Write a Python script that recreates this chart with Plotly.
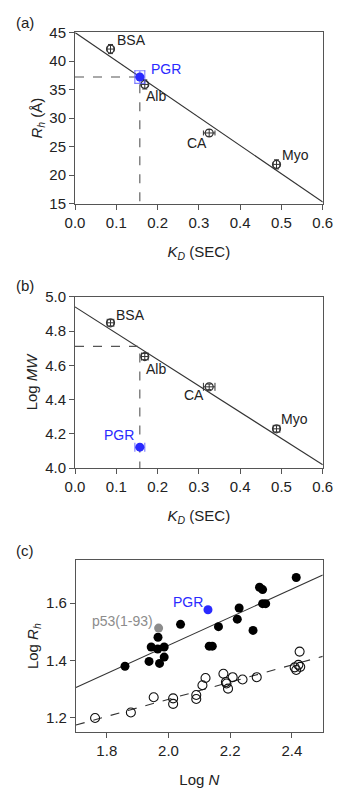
import plotly.graph_objects as go
import numpy as np

# ---------------- data ----------------
std_names = ["BSA", "Alb", "CA", "Myo"]
std_kd = [0.086, 0.169, 0.325, 0.488]
std_kd_err = [0.008, 0.008, 0.014, 0.008]
std_rh = [42.1, 35.9, 27.4, 21.9]
std_rh_err = [0.8, 0.8, 0.6, 0.8]
std_logmw = [4.848, 4.651, 4.474, 4.229]
std_logmw_err = [0.018, 0.018, 0.016, 0.018]

pgr_kd = 0.157
pgr_kd_err = 0.012
pgr_rh = 37.2
pgr_rh_err = 1.1
pgr_logmw = 4.122
pgr_logmw_pred = 4.71

fit_a = (45.0, -49.5)      # intercept, slope  Rh vs KD
fit_b = (4.941, -1.537)    # intercept, slope  LogMW vs KD

# panel c
idp_logn = [1.859, 1.937, 1.944, 1.965, 1.966, 1.971, 1.986, 1.986, 2.039, 2.132, 2.142,
            2.162, 2.223, 2.229, 2.274, 2.295, 2.305, 2.305, 2.315, 2.414]
idp_logrh = [1.380, 1.397, 1.447, 1.440, 1.481, 1.390, 1.447, 1.412, 1.526, 1.450, 1.450,
             1.518, 1.544, 1.583, 1.505, 1.655, 1.647, 1.598, 1.598, 1.689]
fold_logn = [1.762, 1.878, 1.952, 2.015, 2.015, 2.090, 2.090, 2.110, 2.120, 2.178, 2.186,
             2.188, 2.193, 2.208, 2.240, 2.286, 2.409, 2.414, 2.421, 2.427, 2.425]
fold_logrh = [1.200, 1.219, 1.272, 1.268, 1.249, 1.280, 1.266, 1.314, 1.339, 1.354, 1.325,
              1.320, 1.302, 1.342, 1.334, 1.342, 1.376, 1.367, 1.385, 1.378, 1.431]
p53_logn, p53_logrh = 1.968, 1.513
pgr_logn, pgr_logrh = 2.128, 1.577
fit_idp = (0.475, 0.489)
fit_fold = (0.667, 0.299)

BLUE = "#2a2aff"
LIGHTBLUE = "rgba(90,90,255,0.75)"
GRAY = "#8c8c8c"
INK = "#222222"
FONT = "Liberation Sans, Arial, sans-serif"

fig = go.Figure()

# ---------- panel a ----------
kd_line = np.array([0.0, 0.6])
fig.add_trace(go.Scatter(x=kd_line, y=fit_a[0] + fit_a[1] * kd_line, mode="lines",
                         line=dict(color="#333", width=1.1), xaxis="x", yaxis="y"))
fig.add_trace(go.Scatter(x=[0, pgr_kd, pgr_kd], y=[pgr_rh, pgr_rh, 15], mode="lines",
                         line=dict(color="#555", width=1.1, dash="dash"), xaxis="x", yaxis="y"))
fig.add_trace(go.Scatter(x=std_kd, y=std_rh, mode="markers",
                         marker=dict(symbol="circle-open", size=8, color="#333", line=dict(width=1.2)),
                         error_x=dict(type="data", array=std_kd_err, color="#333", thickness=1, width=2.5),
                         error_y=dict(type="data", array=std_rh_err, color="#333", thickness=1, width=2.5),
                         xaxis="x", yaxis="y"))
fig.add_trace(go.Scatter(x=[pgr_kd], y=[pgr_rh], mode="markers",
                         marker=dict(symbol="circle", size=9, color=BLUE),
                         error_x=dict(type="data", array=[pgr_kd_err], color=LIGHTBLUE, thickness=1.2, width=6.5),
                         error_y=dict(type="data", array=[pgr_rh_err], color=LIGHTBLUE, thickness=1.2, width=5.5),
                         xaxis="x", yaxis="y"))

# ---------- panel b ----------
fig.add_trace(go.Scatter(x=kd_line, y=fit_b[0] + fit_b[1] * kd_line, mode="lines",
                         line=dict(color="#333", width=1.1), xaxis="x2", yaxis="y2"))
fig.add_trace(go.Scatter(x=[0, pgr_kd, pgr_kd], y=[pgr_logmw_pred, pgr_logmw_pred, 4.0], mode="lines",
                         line=dict(color="#555", width=1.1, dash="dash"), xaxis="x2", yaxis="y2"))
fig.add_trace(go.Scatter(x=std_kd, y=std_logmw, mode="markers",
                         marker=dict(symbol="circle-open", size=8, color="#333", line=dict(width=1.2)),
                         error_x=dict(type="data", array=std_kd_err, color="#333", thickness=1, width=4),
                         error_y=dict(type="data", array=std_logmw_err, color="#333", thickness=1, width=2),
                         xaxis="x2", yaxis="y2"))
fig.add_trace(go.Scatter(x=[pgr_kd], y=[pgr_logmw], mode="markers",
                         marker=dict(symbol="circle", size=9, color=BLUE),
                         error_x=dict(type="data", array=[0.012], color=LIGHTBLUE, thickness=1.2, width=4.5),
                         xaxis="x2", yaxis="y2"))

# ---------- panel c ----------
n_line = np.array([1.7, 2.5])
fig.add_trace(go.Scatter(x=n_line, y=fit_idp[0] + fit_idp[1] * n_line, mode="lines",
                         line=dict(color="#333", width=1.1), xaxis="x3", yaxis="y3"))
fig.add_trace(go.Scatter(x=n_line, y=fit_fold[0] + fit_fold[1] * n_line, mode="lines",
                         line=dict(color="#333", width=1.1, dash="dash"), xaxis="x3", yaxis="y3"))
fig.add_trace(go.Scatter(x=fold_logn, y=fold_logrh, mode="markers",
                         marker=dict(symbol="circle-open", size=9, color="#111", line=dict(width=1.1)),
                         xaxis="x3", yaxis="y3"))
fig.add_trace(go.Scatter(x=idp_logn, y=idp_logrh, mode="markers",
                         marker=dict(symbol="circle", size=9, color="#000"),
                         xaxis="x3", yaxis="y3"))
fig.add_trace(go.Scatter(x=[p53_logn], y=[p53_logrh], mode="markers",
                         marker=dict(symbol="circle", size=9, color=GRAY), xaxis="x3", yaxis="y3"))
fig.add_trace(go.Scatter(x=[pgr_logn], y=[pgr_logrh], mode="markers",
                         marker=dict(symbol="circle", size=9, color=BLUE), xaxis="x3", yaxis="y3"))

# ---------- annotations ----------
ann = []
def lab(text, x, y, xr, yr, xanchor, xshift, yshift, color=INK):
    ann.append(dict(text=text, x=x, y=y, xref=xr, yref=yr, showarrow=False,
                    xanchor=xanchor, yanchor="middle", xshift=xshift, yshift=yshift,
                    font=dict(size=14, color=color, family=FONT)))

# panel a labels
a_offsets = {"BSA": ("left", 4, 9), "Alb": ("left", -1, -12), "CA": ("right", 0, -10), "Myo": ("left", 3, 9)}
for n, k, r in zip(std_names, std_kd, std_rh):
    xa, xs, ys = a_offsets[n]
    lab(n, k, r, "x", "y", xa, xs, ys)
lab("PGR", pgr_kd, pgr_rh, "x", "y", "left", 9, 8, BLUE)
# panel b labels
b_offsets = {"BSA": ("left", 3, 8), "Alb": ("left", -1, -12), "CA": ("right", -3, -8), "Myo": ("left", 2, 10)}
for n, k, m in zip(std_names, std_kd, std_logmw):
    xa, xs, ys = b_offsets[n]
    lab(n, k, m, "x2", "y2", xa, xs, ys)
lab("PGR", pgr_kd, pgr_logmw, "x2", "y2", "right", -4, 12, BLUE)
# panel c labels
lab("PGR", pgr_logn, pgr_logrh, "x3", "y3", "right", -3, 8, BLUE)
lab("p53(1-93)", p53_logn, p53_logrh, "x3", "y3", "right", -4, 7, GRAY)

# panel letters
for t, yp in [("(a)", 14), ("(b)", 283), ("(c)", 553)]:
    ann.append(dict(text=t, x=4 / 345, y=1 - yp / 800, xref="paper", yref="paper", showarrow=False,
                    xanchor="left", yanchor="middle", font=dict(size=15, color=INK, family=FONT)))

fig.update_layout(annotations=ann)

axis_common = dict(showline=True, mirror=True, linecolor="#555", linewidth=1, ticks="outside",
                   ticklen=5, tickcolor="#555", showgrid=False, zeroline=False,
                   tickfont=dict(size=15, color=INK, family=FONT))
title_font = dict(size=15, color=INK, family=FONT)

xa_dom = [69 / 345, 332 / 345]
fig.update_layout(
    width=345, height=800, margin=dict(l=0, r=0, t=0, b=0),
    paper_bgcolor="white", plot_bgcolor="white", showlegend=False,
    font=dict(family=FONT),
    xaxis=dict(domain=xa_dom, anchor="y", range=[0, 0.6], dtick=0.1, tickformat=".1f",
               title=dict(text="<i>K<sub>D</sub></i> (SEC)", font=title_font, standoff=16), **axis_common),
    yaxis=dict(domain=[1 - 199 / 800, 1 - 24 / 800], anchor="x", range=[15, 45], dtick=5,
               title=dict(text="<i>R<sub>h</sub></i> (Å)", font=title_font, standoff=3), **axis_common),
    xaxis2=dict(domain=xa_dom, anchor="y2", range=[0, 0.6], dtick=0.1, tickformat=".1f",
                title=dict(text="<i>K<sub>D</sub></i> (SEC)", font=title_font, standoff=16), **axis_common),
    yaxis2=dict(domain=[1 - 469 / 800, 1 - 294 / 800], anchor="x2", range=[4.0, 5.0], dtick=0.2,
                tickformat=".1f",
                title=dict(text="Log <i>MW</i>", font=title_font, standoff=3), **axis_common),
    xaxis3=dict(domain=[70 / 345, 332 / 345], anchor="y3", range=[1.7, 2.5], tickvals=[1.8, 2.0, 2.2, 2.4],
                tickformat=".1f",
                title=dict(text="Log <i>N</i>", font=title_font, standoff=16), **axis_common),
    yaxis3=dict(domain=[1 - 739 / 800, 1 - 563 / 800], anchor="x3", range=[1.15, 1.75],
                tickvals=[1.2, 1.4, 1.6], tickformat=".1f",
                title=dict(text="Log <i>R<sub>h</sub></i>", font=title_font, standoff=3), **axis_common),
)

fig.write_html("out.html")
